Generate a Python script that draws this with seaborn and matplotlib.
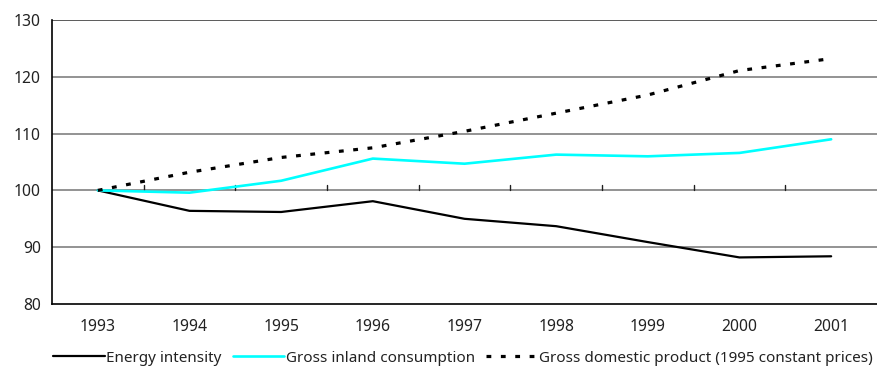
import matplotlib
matplotlib.use("Agg")
import matplotlib.pyplot as plt
import seaborn as sns
import pandas as pd
import numpy as np

# Index values, 1993 = 100
years = ["1993", "1994", "1995", "1996", "1997", "1998", "1999", "2000", "2001"]
energy_intensity = [100.0, 96.4, 96.2, 98.1, 95.0, 93.7, 90.9, 88.2, 88.4]
gross_inland_consumption = [100.0, 99.6, 101.7, 105.6, 104.7, 106.3, 106.0, 106.6, 109.0]
gdp_constant_prices = [100.0, 103.2, 105.8, 107.5, 110.4, 113.6, 116.8, 121.1, 123.2]

series_names = [
    "Energy intensity",
    "Gross inland consumption",
    "Gross domestic product (1995 constant prices)",
]
y_ticks = [80, 90, 100, 110, 120, 130]

sns.set_theme(style="white")
plt.rcParams["font.family"] = ["Noto Sans", "DejaVu Sans"]

frames = []
for name, vals in zip(series_names,
                      [energy_intensity, gross_inland_consumption, gdp_constant_prices]):
    frames.append(pd.DataFrame({"pos": np.arange(len(years)), "value": vals, "series": name}))
df = pd.concat(frames, ignore_index=True)

fig = plt.figure(figsize=(8.77, 3.70), dpi=100)
ax = fig.add_axes([52 / 877, 1 - 304 / 370, 1 - 52 / 877, (304 - 20) / 370])

styles = {
    series_names[0]: dict(color="black", lw=1.6, dashes=None),
    series_names[1]: dict(color="#00FFFF", lw=1.9, dashes=None),
    series_names[2]: dict(color="black", lw=2.3, dashes=(1.5, 3.0)),
}

# horizontal gridlines
for v in y_ticks[1:-1]:
    ax.axhline(v, color="#808080", lw=1.2, zorder=1)
ax.axhline(130, color="#404040", lw=1.2, zorder=1)

for name in series_names:
    st = styles[name]
    sub = df[df["series"] == name]
    sns.lineplot(data=sub, x="pos", y="value", ax=ax, color=st["color"],
                 linewidth=st["lw"], label=name, zorder=3)
    line = ax.get_lines()[-1]
    if st["dashes"] is not None:
        line.set_dashes(st["dashes"])

# category separators on the 100 line
for b in np.arange(0.5, len(years) - 1, 1.0):
    ax.plot([b, b], [100, 100.9], color="#202020", lw=1.0, zorder=2)

fs = 11.3
ax.set_xlim(-0.5, len(years) - 0.5)
ax.set_ylim(80, 130)
ax.set_yticks(y_ticks)
ax.set_yticklabels([str(t) for t in y_ticks], fontsize=fs, color="#222222")
ax.set_xticks(np.arange(len(years)))
ax.set_xticklabels(years, fontsize=fs, color="#222222")
ax.tick_params(axis="x", length=0, pad=11)
ax.tick_params(axis="y", length=4, width=1.0, color="black", direction="in", pad=8)
ax.set_xlabel("")
ax.set_ylabel("")

for side in ["top", "right"]:
    ax.spines[side].set_visible(False)
ax.spines["left"].set_color("black")
ax.spines["left"].set_linewidth(1.2)
ax.spines["bottom"].set_color("black")
ax.spines["bottom"].set_linewidth(1.2)

leg = ax.legend(loc="center", bbox_to_anchor=(463 / 877, 1 - 358 / 370), bbox_transform=fig.transFigure,
                ncol=3, frameon=False, fontsize=11.0, handlelength=3.4, handletextpad=0.1,
                columnspacing=0.7, borderaxespad=0, borderpad=0)
for t in leg.get_texts():
    t.set_color("#222222")

fig.savefig("out.png", dpi=100)
